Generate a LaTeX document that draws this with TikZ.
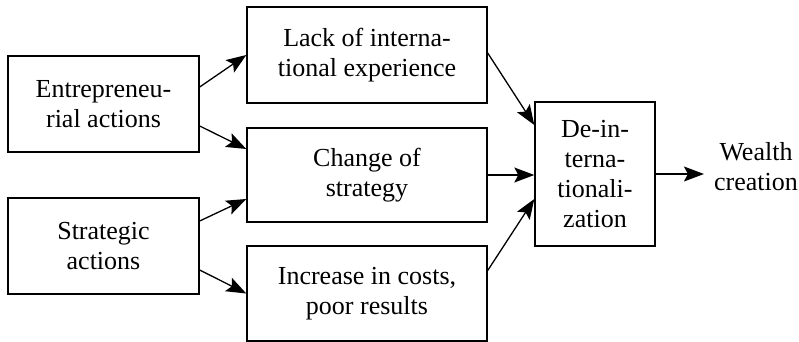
\documentclass[tikz,border=0pt]{standalone}
\usepackage{fontspec}
\setmainfont{Liberation Serif}
\usetikzlibrary{arrows.meta}
\begin{document}
\begin{tikzpicture}[x=1pt,y=-1pt,
  box/.style={draw,line width=1.4pt,inner sep=0pt,align=center,
    font=\rmfamily\fontsize{26}{30}\selectfont},
  plain/.style={inner sep=0pt,align=center,font=\rmfamily\fontsize{26}{30}\selectfont},
  link/.style={line width=1.3pt,-{Stealth[length=20pt,width=15pt,inset=4pt]}}]
\useasboundingbox (0,0) rectangle (799,342);
% left column: sources of action
\node[box,minimum width=191pt,minimum height=96pt] (ent) at (103.5,104) {Entrepreneu-\\rial actions};
\node[box,minimum width=191pt,minimum height=96pt] (str) at (103.5,246) {Strategic\\actions};
% middle column: drivers
\node[box,minimum width=240pt,minimum height=96pt] (lack) at (367,55) {Lack of interna-\\tional experience};
\node[box,minimum width=240pt,minimum height=94pt] (chg) at (367,175) {Change of\\strategy};
\node[box,minimum width=240pt,minimum height=95pt] (inc) at (367,293.5) {Increase in costs,\\poor results};
% outcome
\node[box,minimum width=120pt,minimum height=144pt] (dei) at (595,174) {De-in-\\terna-\\tionali-\\zation};
\node[plain] (wc) at (756,167) {Wealth\\creation};
% connectors
\draw[link] ([yshift=17pt]ent.east) -- (lack.west);
\draw[link] ([yshift=-22pt]ent.east) -- ([yshift=26pt]chg.west);
\draw[link] ([yshift=25pt]str.east) -- ([yshift=-24pt]chg.west);
\draw[link] ([yshift=-24pt]str.east) -- (inc.west);
\draw[link] ([yshift=2pt]lack.east) -- ([yshift=49pt]dei.west);
\draw[link] (chg.east) -- (chg.east -| dei.west);
\draw[link] ([yshift=23pt]inc.east) -- ([yshift=-25pt]dei.west);
\draw[link] (dei.east) -- ([xshift=-10pt]dei.east -| wc.west);
\end{tikzpicture}
\end{document}
